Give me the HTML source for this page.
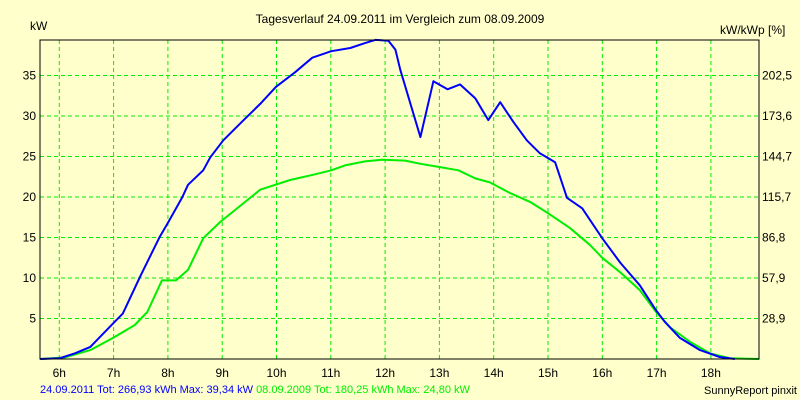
<!DOCTYPE html>
<html><head><meta charset="utf-8"><style>
body{margin:0;background:#FFFFCC;}
svg{display:block;font-family:"Liberation Sans",sans-serif;}
</style></head><body>
<svg id="chart" width="800" height="400">
<rect x="0" y="0" width="800" height="400" fill="#FFFFCC"/>
<text x="400" y="23" font-size="12" text-anchor="middle">Tagesverlauf 24.09.2011 im Vergleich zum 08.09.2009</text>
<text x="30" y="30" font-size="12">kW</text>
<text x="720" y="34" font-size="12">kW/kWp [%]</text>
<g id="grid"></g>
<g id="ticks"></g>
<g id="series"></g>
<rect x="40" y="40" width="719" height="319" fill="none" stroke="#000" stroke-width="1"/>
<text x="40" y="393" font-size="11"><tspan fill="#0000FF">24.09.2011 Tot: 266,93 kWh Max: 39,34 kW </tspan><tspan fill="#00EE00">08.09.2009 Tot: 180,25 kWh Max: 24,80 kW</tspan></text>
<text x="797" y="394" font-size="11" text-anchor="end">SunnyReport pinxit</text>
</svg>
<script>
const hourTicks = [6,7,8,9,10,11,12,13,14,15,16,17,18];
const kwTicks = [5,10,15,20,25,30,35];
const pctLabels = ["28,9","57,9","86,8","115,7","144,7","173,6","202,5"];
const blueHours = [5.65,6.01,6.29,6.57,6.99,7.17,7.49,7.85,8.00,8.26,8.37,8.65,8.78,9.02,9.38,9.70,9.99,10.34,10.66,11.01,11.36,11.63,11.82,12.06,12.19,12.28,12.65,12.89,13.15,13.38,13.66,13.90,14.12,14.36,14.61,14.85,15.13,15.35,15.63,16.00,16.33,16.69,16.99,17.15,17.43,17.80,18.16,18.44];
const blueKw = [0,0.1,0.7,1.5,4.4,5.6,10.2,15.1,16.8,19.9,21.5,23.3,24.9,27.0,29.4,31.5,33.6,35.4,37.2,38.0,38.4,39.0,39.4,39.3,38.2,35.7,27.4,34.3,33.3,33.9,32.2,29.5,31.7,29.3,27.0,25.4,24.3,19.9,18.6,14.9,11.9,9.1,6.0,4.6,2.6,1.1,0.25,0];
const greenHours = [5.65,6.10,6.57,6.99,7.39,7.62,7.89,8.15,8.37,8.65,8.96,9.57,9.70,10.25,10.71,11.01,11.26,11.63,11.96,12.37,12.65,13.00,13.35,13.66,13.93,14.30,14.67,15.00,15.40,15.77,16.00,16.33,16.69,16.99,17.25,17.62,17.98,18.35,18.89];
const greenKw = [0,0.2,1.1,2.6,4.2,5.8,9.7,9.7,11.0,14.9,16.9,20.2,20.9,22.1,22.8,23.3,23.9,24.4,24.6,24.5,24.1,23.7,23.3,22.3,21.8,20.5,19.4,18.0,16.2,14.1,12.5,10.7,8.5,5.8,3.9,2.1,0.7,0.1,0];

const NS="http://www.w3.org/2000/svg";
const X=h=>59.3+(h-6)*54.3;
const Y=v=>359-v*8.1;
function mk(tag,attrs,parent){const e=document.createElementNS(NS,tag);for(const k in attrs)e.setAttribute(k,attrs[k]);parent.appendChild(e);return e;}
const grid=document.getElementById('grid'),ticks=document.getElementById('ticks'),series=document.getElementById('series');
hourTicks.forEach(h=>{
  const l=mk('line',{x1:X(h),x2:X(h),y1:40,y2:359,stroke:'#00EE00','stroke-dasharray':'4,3'},grid);
  
  
  const t=mk('text',{x:X(h),y:377,'font-size':12,'text-anchor':'middle'},ticks);
  t.textContent=h+'h';
  
  
});
kwTicks.forEach((v,i)=>{
  const l=mk('line',{x1:40,x2:759,y1:Y(v),y2:Y(v),stroke:'#00EE00','stroke-dasharray':'4,3'},grid);
  
  
  const t=mk('text',{x:36,y:Y(v)+4,'font-size':12,'text-anchor':'end'},ticks);
  t.textContent=v;
  
  
  const r=mk('text',{x:762,y:Y(v)+4,'font-size':12},ticks);
  r.textContent=pctLabels[i];
  
  
});
function line(hs,vs,color,name){
  const pts=hs.map((h,i)=>X(h).toFixed(1)+','+Y(vs[i]).toFixed(1)).join(' ');
  const p=mk('polyline',{points:pts,fill:'none',stroke:color,'stroke-width':2,'stroke-linejoin':'round'},series);
  
  
}
line(greenHours,greenKw,'#00EE00','series-2009');
line(blueHours,blueKw,'#0000FF','series-2011');
</script>
</body></html>
